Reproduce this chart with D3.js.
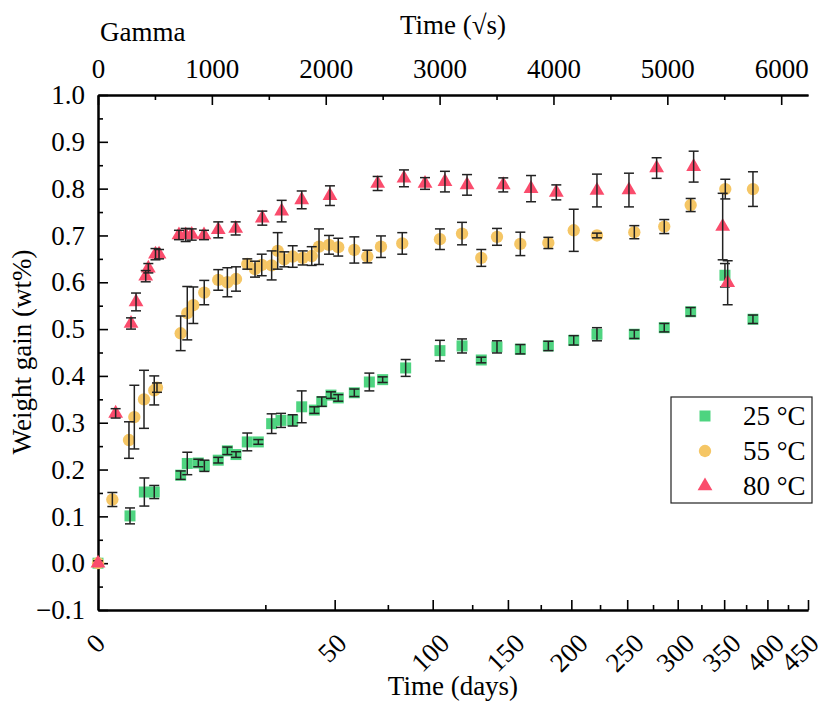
<!DOCTYPE html>
<html><head><meta charset="utf-8">
<script src="https://cdn.jsdelivr.net/npm/d3@7"></script>
<style>body{margin:0;background:#fff} text{font-family:"Liberation Serif","Times New Roman",serif;fill:#000}</style>
</head><body><svg id="c" width="827" height="702"></svg>
<script>
// x values in sqrt(seconds); y values in wt%
const greenX = [0, 281, 407, 494, 726, 784, 881, 934, 1056, 1136, 1212, 1311, 1408, 1525, 1607, 1710, 1789, 1900, 1965, 2046, 2110, 2251, 2383, 2500, 2702, 3003, 3197, 3366, 3504, 3709, 3955, 4178, 4382, 4710, 4973, 5205, 5506, 5752];
const greenY = [0, 0.101, 0.152, 0.152, 0.188, 0.213, 0.214, 0.208, 0.220, 0.240, 0.232, 0.259, 0.259, 0.298, 0.305, 0.305, 0.334, 0.327, 0.345, 0.359, 0.353, 0.364, 0.387, 0.392, 0.417, 0.454, 0.464, 0.434, 0.462, 0.457, 0.464, 0.476, 0.489, 0.489, 0.503, 0.537, 0.615, 0.521];
const greenE = [0, 0.017, 0.030, 0.014, 0.009, 0.024, 0.008, 0.012, 0.006, 0.008, 0.006, 0.019, 0.005, 0.021, 0.015, 0.012, 0.034, 0.007, 0.010, 0.007, 0.007, 0.008, 0.019, 0.006, 0.018, 0.022, 0.015, 0.006, 0.013, 0.010, 0.010, 0.010, 0.014, 0.009, 0.009, 0.009, 0.025, 0.009];

const yellowX = [0, 126, 272, 319, 404, 494, 518, 726, 784, 837, 933, 1056, 1136, 1212, 1311, 1379, 1438, 1525, 1578, 1636, 1710, 1798, 1877, 1941, 2029, 2110, 2251, 2365, 2485, 2672, 3003, 3197, 3366, 3504, 3709, 3955, 4178, 4382, 4710, 4973, 5205, 5509, 5752];
const yellowY = [0, 0.136, 0.263, 0.312, 0.350, 0.369, 0.375, 0.491, 0.534, 0.551, 0.578, 0.605, 0.600, 0.607, 0.639, 0.628, 0.637, 0.636, 0.667, 0.649, 0.655, 0.652, 0.656, 0.676, 0.680, 0.675, 0.669, 0.655, 0.676, 0.683, 0.692, 0.704, 0.652, 0.697, 0.682, 0.684, 0.711, 0.700, 0.707, 0.719, 0.765, 0.799, 0.799];
const yellowE = [0.005, 0.015, 0.039, 0.068, 0.062, 0.031, 0.010, 0.037, 0.057, 0.039, 0.026, 0.022, 0.031, 0.026, 0.011, 0.017, 0.023, 0.031, 0.039, 0.016, 0.023, 0.015, 0.020, 0.038, 0.020, 0.019, 0.028, 0.0135, 0.023, 0.023, 0.022, 0.024, 0.018, 0.018, 0.025, 0.012, 0.045, 0.005, 0.014, 0.015, 0.014, 0.021, 0.037];

const redX = [0, 155, 290, 334, 419, 442, 505, 536, 711, 770, 823, 931, 1056, 1209, 1443, 1613, 1789, 2037, 2456, 2687, 2872, 3047, 3241, 3559, 3803, 4025, 4382, 4663, 4906, 5231, 5486, 5530];
const redY = [0, 0.320, 0.512, 0.558, 0.613, 0.630, 0.660, 0.660, 0.701, 0.701, 0.702, 0.701, 0.712, 0.715, 0.737, 0.752, 0.776, 0.785, 0.811, 0.822, 0.811, 0.815, 0.808, 0.808, 0.800, 0.792, 0.796, 0.797, 0.844, 0.847, 0.719, 0.599];
const redE = [0, 0.010, 0.012, 0.019, 0.012, 0.010, 0.012, 0.010, 0.010, 0.014, 0.012, 0.010, 0.017, 0.014, 0.015, 0.023, 0.019, 0.021, 0.015, 0.018, 0.0125, 0.022, 0.022, 0.015, 0.028, 0.016, 0.035, 0.036, 0.022, 0.033, 0.071, 0.047];

const seriesNames = ["25 °C", "55 °C", "80 °C"];
const topTicks = [0, 1000, 2000, 3000, 4000, 5000, 6000];
const dayTicks = [0, 50, 100, 150, 200, 250, 300, 350, 400, 450];
const yTicks = [-0.1, 0, 0.1, 0.2, 0.3, 0.4, 0.5, 0.6, 0.7, 0.8, 0.9, 1.0];

const svg = d3.select("#c");
const L = 98, R = 808, T = 95, B = 610;
const FS = 27;
const x = d3.scaleLinear().domain([0, Math.sqrt(450 * 86400)]).range([L, R]);
const y = d3.scaleLinear().domain([-0.1, 1.0]).range([B, T]);
const dayToX = d => Math.sqrt(d * 86400);

function styleAxis(g) {
  g.select(".domain").attr("stroke", "#000").attr("stroke-width", 2);
  g.selectAll(".tick line").attr("stroke", "#000").attr("stroke-width", 1.6);
  g.selectAll("text").style("font-family", "'Liberation Serif', serif").style("font-size", FS + "px").attr("fill", "#000");
}

// left axis
const minorY = d3.range(-0.05, 1.0, 0.1);
svg.append("g").attr("transform", `translate(${L},0)`)
  .call(d3.axisLeft(y).tickValues(minorY).tickSize(-5).tickFormat("").tickSizeOuter(0)).call(styleAxis);
svg.append("g").attr("transform", `translate(${L},0)`)
  .call(d3.axisLeft(y).tickValues(yTicks).tickSize(-10).tickPadding(13).tickFormat(d3.format(".1f")).tickSizeOuter(0))
  .call(styleAxis);

// top axis
svg.append("g").attr("transform", `translate(0,${T})`)
  .call(d3.axisTop(x).tickValues(d3.range(500, 6001, 1000)).tickSize(-5).tickFormat("").tickSizeOuter(0)).call(styleAxis);
svg.append("g").attr("transform", `translate(0,${T})`)
  .call(d3.axisTop(x).tickValues(topTicks).tickSize(-10).tickPadding(17).tickFormat(d3.format("d")).tickSizeOuter(0))
  .call(styleAxis);

// bottom axis (days, nonlinear)
const minorDays = d3.range(25, 450, 50);
svg.append("g").attr("transform", `translate(0,${B})`)
  .call(d3.axisBottom(x).tickValues(minorDays.map(dayToX)).tickSize(-5).tickFormat("").tickSizeOuter(0)).call(styleAxis);
const bax = svg.append("g").attr("transform", `translate(0,${B})`)
  .call(d3.axisBottom(x).tickValues(dayTicks.map(dayToX)).tickSize(-10).tickFormat((d, i) => dayTicks[i]).tickSizeOuter(0))
  .call(styleAxis);
const capH = 0.68 * FS;
bax.selectAll(".tick text")
  .attr("text-anchor", "end").attr("dy", null).attr("y", 0)
  .each(function (d) {
    const w = this.getComputedTextLength();
    let ax = 0.7071 * (w + capH) / 2 - 3;
    ax = Math.min(ax, 820 - x(d));
    const ay = 22 + 0.7071 * capH;
    d3.select(this).attr("transform", `translate(${ax},${ay}) rotate(-45)`);
  });

// titles
svg.append("text").attr("x", 453).attr("y", 34).attr("text-anchor", "middle").style("font-size", FS + "px").text("Time (√s)");
svg.append("text").attr("x", 100).attr("y", 41).style("font-size", FS + "px").text("Gamma");
svg.append("text").attr("x", 453).attr("y", 695).attr("text-anchor", "middle").style("font-size", FS + "px").text("Time (days)");
svg.append("text").attr("transform", "translate(31,352) rotate(-90)").attr("text-anchor", "middle").style("font-size", FS + "px").text("Weight gain (wt%)");

const colors = ["#4ed480", "#f5c665", "#fa4c6c"];
const symbols = [d3.symbolSquare, d3.symbolCircle, d3.symbolTriangle];
const sizes = [121, 120, 95];
const datasets = [
  greenX.map((v, i) => ({x: v, y: greenY[i], e: greenE[i]})),
  yellowX.map((v, i) => ({x: v, y: yellowY[i], e: yellowE[i]})),
  redX.map((v, i) => ({x: v, y: redY[i], e: redE[i]}))
];

const plot = svg.append("g");
datasets.forEach((data, si) => {
  const g = plot.append("g");
  g.selectAll("path.m").data(data).enter().append("path")
    .attr("d", d3.symbol().type(symbols[si]).size(sizes[si]))
    .attr("transform", d => `translate(${x(d.x)},${y(d.y)})`)
    .attr("fill", colors[si]);
  const eb = g.selectAll("g.eb").data(data.filter(d => d.e > 0)).enter().append("g").attr("stroke", "#222").attr("stroke-width", 1.5);
  eb.append("line").attr("x1", d => x(d.x)).attr("x2", d => x(d.x)).attr("y1", d => y(d.y + d.e)).attr("y2", d => y(d.y - d.e));
  eb.append("line").attr("x1", d => x(d.x) - 5).attr("x2", d => x(d.x) + 5).attr("y1", d => y(d.y + d.e)).attr("y2", d => y(d.y + d.e));
  eb.append("line").attr("x1", d => x(d.x) - 5).attr("x2", d => x(d.x) + 5).attr("y1", d => y(d.y - d.e)).attr("y2", d => y(d.y - d.e));
});

// legend
const lg = svg.append("g").attr("transform", "translate(671,397)");
lg.append("rect").attr("width", 141).attr("height", 106).attr("fill", "#fff").attr("stroke", "#222").attr("stroke-width", 1.2);
seriesNames.forEach((n, i) => {
  lg.append("path").attr("d", d3.symbol().type(symbols[i]).size(sizes[i])).attr("transform", `translate(34,${19 + i * 35})`).attr("fill", colors[i]);
  lg.append("text").attr("x", 72).attr("y", 19 + i * 35).attr("dy", "0.35em").style("font-size", FS + "px").text(n);
});
</script></body></html>
